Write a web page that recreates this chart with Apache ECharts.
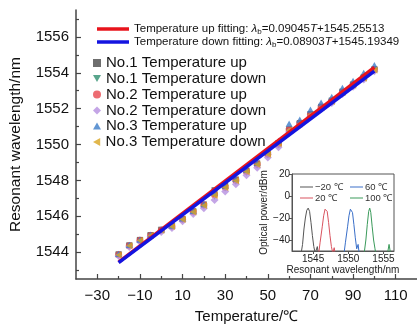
<!DOCTYPE html>
<html><head><meta charset="utf-8">
<script src="https://cdn.jsdelivr.net/npm/echarts@6/dist/echarts.min.js"></script>
<style>html,body{margin:0;padding:0;background:#fff}#c{width:417px;height:329px}</style>
</head><body><div id="c"></div>
<script>
const temps = [-20,-15,-10,-5,0,5,10,15,20,25,30,35,40,45,50,55,60,65,70,75,80,85,90,95,100];
const no1Up   = [1543.88,1544.38,1544.68,1544.95,1545.25,1545.47,1545.86,1546.28,1546.66,1547.45,1547.70,1548.05,1548.55,1548.95,1549.50,1550.08,1550.85,1551.20,1551.70,1552.10,1552.45,1552.95,1553.35,1553.75,1554.20];
const no1Down = [1543.80,1544.30,1544.62,1544.90,1545.18,1545.40,1545.78,1546.20,1546.56,1547.10,1547.55,1547.92,1548.42,1548.82,1549.40,1549.95,1550.75,1551.12,1551.60,1552.02,1552.38,1552.88,1553.28,1553.68,1554.12];
const no2Up   = [1543.85,1544.36,1544.66,1544.93,1545.22,1545.44,1545.83,1546.25,1546.62,1547.20,1547.62,1548.00,1548.50,1548.90,1549.46,1550.02,1550.82,1551.18,1551.66,1552.08,1552.42,1552.92,1553.32,1553.72,1554.18];
const no2Down = [1543.78,1544.28,1544.58,1544.86,1545.12,1545.35,1545.72,1546.12,1546.45,1546.90,1547.38,1547.78,1548.28,1548.70,1549.28,1549.85,1550.70,1551.08,1551.55,1551.98,1552.32,1552.82,1553.22,1553.62,1554.08];
const no3Up   = [1543.90,1544.40,1544.70,1544.97,1545.27,1545.48,1545.88,1546.30,1546.68,1547.30,1547.70,1548.08,1548.58,1548.98,1549.60,1550.20,1551.16,1551.39,1551.94,1552.33,1552.66,1553.16,1553.55,1553.99,1554.43];
const no3Down = [1543.84,1544.35,1544.65,1544.92,1545.22,1545.43,1545.82,1546.24,1546.60,1547.15,1547.60,1547.98,1548.48,1548.88,1549.45,1550.05,1550.80,1551.15,1551.65,1552.05,1552.40,1552.90,1553.30,1553.70,1554.15];
const fitT = [-20, 100];
const fitUp = [1543.446, 1554.300];
const fitDown = [1543.413, 1554.096];
const xLabels = [-30,-10,10,30,50,70,90,110];
const xMinor = [-20,0,20,40,60,80,100];
const yLabels = [1544,1546,1548,1550,1552,1554,1556];
const yMinor = [1543,1545,1547,1549,1551,1553,1555,1557];
// inset spectra
const specM20X = [1542.5,1543.3,1543.5,1543.7,1543.9,1544.1,1544.3,1544.5,1544.7,1544.9,1545.1,1545.3,1545.6,1545.8,1546.2];
const specM20Y = [-60,-52,-44,-30,-20,-13,-11,-14,-24,-36,-46,-52,-46,-55,-60];
const spec20X = [1545.5,1545.8,1546.0,1546.3,1546.5,1546.7,1546.85,1547.0,1547.2,1547.4,1547.6,1547.8,1548.0,1548.2];
const spec20Y = [-60,-52,-42,-28,-18,-12,-11,-14,-24,-36,-46,-52,-47,-56];
const spec60X = [1549.0,1549.4,1549.6,1549.9,1550.1,1550.3,1550.45,1550.6,1550.8,1551.0,1551.2,1551.4,1551.6];
const spec60Y = [-60,-52,-42,-28,-18,-12,-11,-15,-26,-38,-48,-44,-55];
const spec100X = [1552.0,1552.3,1552.5,1552.7,1552.9,1553.05,1553.2,1553.4,1553.6,1553.8,1554.0,1555.5,1555.8,1556.0];
const spec100Y = [-60,-50,-40,-26,-14,-11,-15,-28,-40,-48,-56,-55,-44,-52];
const insetXLabels = [1545,1550,1555];
const insetYLabels = [-40,-20,0,20];

const FONT = '"Liberation Sans", Arial, sans-serif';
const minus = v => String(v).replace('-', '\u2212');
const plain = v => String(v);
const zip = (a,b) => a.map((v,i)=>[v,b[i]]);

const TRI_UP = 'path://M5,0L10,9L0,9Z';
const TRI_DOWN = 'path://M0,0L10,0L5,9Z';
const TRI_LEFT = 'path://M0,5L9,0L9,10Z';
const scatterDefs = [
  ['No.1 Temperature up', no1Up, 'rect', '#4a4a4a', 6],
  ['No.1 Temperature down', no1Down, TRI_DOWN, '#2f8f6f', 7],
  ['No.2 Temperature up', no2Up, 'circle', '#e8474f', 7],
  ['No.2 Temperature down', no2Down, 'diamond', '#b58ee0', 8],
  ['No.3 Temperature up', no3Up, TRI_UP, '#3b7cc8', 7],
  ['No.3 Temperature down', no3Down, TRI_LEFT, '#d9a520', 7]
];
const series = scatterDefs.map(d => ({
  type:'scatter', name:d[0], data: zip(temps, d[1]), symbol:d[2], symbolKeepAspect:true,
  symbolSize:d[4], itemStyle:{color:d[3]}, xAxisIndex:0, yAxisIndex:0, z:2
}));
series.push({type:'line', name:'fitUp', data: zip(fitT, fitUp), symbol:'none', lineStyle:{color:'#e8141c', width:3.5}, itemStyle:{color:'#e8141c'}, xAxisIndex:0, yAxisIndex:0, z:3});
series.push({type:'line', name:'fitDown', data: zip(fitT, fitDown), symbol:'none', lineStyle:{color:'#1414e0', width:3.5}, itemStyle:{color:'#1414e0'}, xAxisIndex:0, yAxisIndex:0, z:4});
const specDefs = [
  ['\u221220 \u2103', specM20X, specM20Y, '#555555'],
  ['20 \u2103', spec20X, spec20Y, '#d9535f'],
  ['60 \u2103', spec60X, spec60Y, '#3a6fc8'],
  ['100 \u2103', spec100X, spec100Y, '#3a9a5a']
];
specDefs.forEach(d => series.push({type:'line', name:d[0], data: zip(d[1], d[2]), symbol:'none', clip:true,
  lineStyle:{color:d[3], width:1}, itemStyle:{color:d[3]}, xAxisIndex:2, yAxisIndex:2, z:5}));

const legends = [];
const fitText = {
  fitUp: 'Temperature up fitting: {i|\u03bb}{s|b}=0.09045{i|T}+1545.25513',
  fitDown: 'Temperature down fitting: {i|\u03bb}{s|b}=0.08903{i|T}+1545.19349'
};
[['fitUp',17,'#e8141c'],['fitDown',30,'#1414e0']].forEach(r => legends.push({
  data:[{name:r[0], icon:'rect'}], left:92, top:r[1], itemWidth:32, itemHeight:3.5, itemGap:5,
  itemStyle:{color:r[2]},
  formatter: n => fitText[n],
  textStyle:{fontFamily:FONT, fontSize:11.5, color:'#111', lineHeight:14,
    rich:{i:{fontStyle:'italic', fontSize:11.5, fontFamily:FONT, color:'#111'},
          s:{fontSize:8, verticalAlign:'bottom', lineHeight:8, fontFamily:FONT, color:'#111'}}}
}));
const rowC = [58,73.5,89.5,105.5,121,137];
scatterDefs.forEach((d,i) => legends.push({
  data:[{name:d[0], icon:d[2]}], left:88, top:rowC[i]-8, itemWidth:8, itemHeight:8,
  textStyle:{fontFamily:FONT, fontSize:15, color:'#111', lineHeight:16}
}));
[[0,295,177],[2,345,177],[1,295,188],[3,345,188]].forEach(r => legends.push({
  data:[{name:specDefs[r[0]][0], icon:'rect'}], left:r[1], top:r[2], itemWidth:13, itemHeight:1, itemGap:2,
  itemStyle:{color:specDefs[r[0]][3]},
  textStyle:{fontFamily:FONT, fontSize:9.5, color:'#333', lineHeight:10, padding:[0,0,0,-3]}
}));

const chart = echarts.init(document.getElementById('c'), null, {renderer:'canvas'});
chart.setOption({
  animation:false,
  backgroundColor:'#fff',
  legend: legends,
  grid:[
    {left:75, top:10, width:343, height:272},
    {left:292, top:174, width:102, height:77, show:true, borderColor:'#555', borderWidth:1, backgroundColor:'rgba(255,255,255,0)'}
  ],
  xAxis:[
    {type:'value', gridIndex:0, min:-40, max:120, name:'Temperature/\u2103', nameLocation:'middle', nameGap:30,
     nameTextStyle:{fontFamily:FONT, fontSize:15, color:'#111'},
     axisLine:{show:true, onZero:false, lineStyle:{color:'#444', width:1.5}},
     axisTick:{show:true, inside:true, length:5, customValues:xLabels, lineStyle:{color:'#444', width:1.2}},
     axisLabel:{customValues:xLabels, formatter:minus, fontFamily:FONT, fontSize:15, color:'#111', margin:9},
     splitLine:{show:false}},
    {type:'value', gridIndex:0, min:-40, max:120, position:'bottom',
     axisLine:{show:false, onZero:false}, axisTick:{show:true, inside:true, length:3, customValues:xMinor, lineStyle:{color:'#444', width:1.2}},
     axisLabel:{show:false}, splitLine:{show:false}},
    {type:'value', gridIndex:1, min:1542, max:1556.5, name:'Resonant wavelength/nm', nameLocation:'middle', nameGap:12,
     nameTextStyle:{fontFamily:FONT, fontSize:10, color:'#222'},
     axisLine:{show:true, onZero:false, lineStyle:{color:'#555', width:1}},
     axisTick:{show:true, length:3, customValues:insetXLabels, lineStyle:{color:'#555'}},
     axisLabel:{customValues:insetXLabels, formatter:plain, fontFamily:FONT, fontSize:10, color:'#222', margin:3},
     splitLine:{show:false}}
  ],
  yAxis:[
    {type:'value', gridIndex:0, min:1542.5, max:1557.5, name:'Resonant wavelength/nm', nameLocation:'middle', nameGap:52,
     nameTextStyle:{fontFamily:FONT, fontSize:15.5, color:'#111'},
     axisLine:{show:true, onZero:false, lineStyle:{color:'#444', width:1.5}},
     axisTick:{show:true, inside:true, length:5, customValues:yLabels, lineStyle:{color:'#444', width:1.2}},
     axisLabel:{customValues:yLabels, formatter:plain, fontFamily:FONT, fontSize:15, color:'#111', margin:7},
     splitLine:{show:false}},
    {type:'value', gridIndex:0, min:1542.5, max:1557.5, position:'left',
     axisLine:{show:false, onZero:false}, axisTick:{show:true, inside:true, length:3, customValues:yMinor, lineStyle:{color:'#444', width:1.2}},
     axisLabel:{show:false}, splitLine:{show:false}},
    {type:'value', gridIndex:1, min:-50, max:20, name:'Optical power/dBm', nameLocation:'middle', nameGap:22,
     nameTextStyle:{fontFamily:FONT, fontSize:10, color:'#222'},
     axisLine:{show:true, onZero:false, lineStyle:{color:'#555', width:1}},
     axisTick:{show:true, length:3, customValues:insetYLabels, lineStyle:{color:'#555'}},
     axisLabel:{customValues:insetYLabels, formatter:minus, fontFamily:FONT, fontSize:10, color:'#222', margin:2},
     splitLine:{show:false}}
  ],
  series: series
});
</script></body></html>
